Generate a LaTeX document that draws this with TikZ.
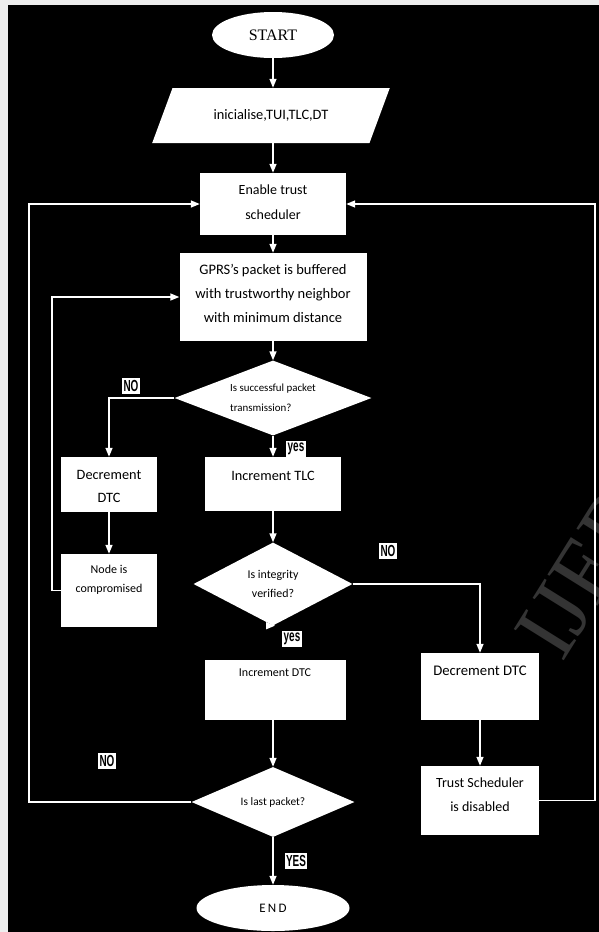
\documentclass[tikz,border=0pt]{standalone}
\usepackage{fontspec}
\setmainfont{Carlito}
\newfontfamily\startfont{Liberation Serif}
\newfontfamily\tagfont{Liberation Sans}[FakeStretch=0.62]
\usetikzlibrary{shapes.geometric,arrows.meta}
% box text: width, height, first baseline, lines
\newcommand{\boxtext}[4]{\parbox[c][#2][t]{#1}{\centering\rule{0pt}{#3}#4}}
\tikzset{
  flowbox/.style={fill=white, text=black, inner sep=0pt},
  decision/.style={diamond, fill=white, text=black, inner sep=0pt, align=center},
  terminal/.style={ellipse, fill=white, text=black, inner sep=0pt},
  flow/.style={draw=white, line width=1.4pt, -{Triangle[width=7pt,length=9pt]}},
  rail/.style={draw=white, line width=1.4pt},
  tag/.style={fill=white, text=black, inner xsep=1.5pt, inner ysep=2pt, font=\tagfont\bfseries\fontsize{16}{16}\selectfont},
}
\begin{document}
\begin{tikzpicture}[x=1pt,y=1pt,yscale=-1,xscale=1]
\useasboundingbox (0,0) rectangle (599,932);

%Shape: Page
\fill[fill={rgb,255:red,238;green,238;blue,238}] (0,0) rectangle (599,932);
\fill[black] (8,5) rectangle (599,932);
% watermark
\node (mark) [anchor=base west, rotate=58, inner sep=0pt, text={rgb,255:red,52;green,52;blue,52}, font=\startfont\fontsize{90}{90}\selectfont] at (562,664) {IJERT};

%Shape: Ellipse [start]
\node (start) [terminal, minimum width=122pt, minimum height=46pt, font=\startfont\fontsize{16}{16}\selectfont] at (273,35) {START};
%Shape: Parallelogram [init]
\node (init) [trapezium, trapezium left angle=45, trapezium right angle=135, trapezium stretches=true, minimum width=238pt, minimum height=55pt, fill=white, text=black, inner sep=0pt, font=\fontsize{14.4}{16}\selectfont] at (271,115.5) {inicialise,TUI,TLC,DT};
%Shape: Rectangle [enable]
\node (enable) [flowbox, font=\fontsize{14}{25}\selectfont] at (273,204) {\boxtext{146pt}{62pt}{21pt}{Enable trust\\scheduler}};
%Shape: Rectangle [gprs]
\node (gprs) [flowbox, font=\fontsize{14.5}{24}\selectfont] at (273,297) {\boxtext{187pt}{88pt}{21pt}{GPRS's packet is buffered\\with trustworthy neighbor\\with minimum distance}};
%Shape: Diamond [dia1]
\node (dia1) [decision, align=left, shape aspect=2.6, minimum width=197pt, minimum height=75pt, font=\fontsize{10.9}{20}\selectfont] at (273,398) {Is successful packet\\transmission?};
%Shape: Rectangle [decl]
\node (decl) [flowbox, font=\fontsize{14.3}{23}\selectfont] at (109,484.5) {\boxtext{96pt}{55pt}{22pt}{Decrement\\DTC}};
%Shape: Rectangle [inctlc]
\node (inctlc) [flowbox, font=\fontsize{14.3}{23}\selectfont] at (273,484) {\boxtext{136pt}{54pt}{23pt}{Increment TLC}};
%Shape: Rectangle [comp]
\node (comp) [flowbox, font=\fontsize{12}{19}\selectfont] at (109,590.5) {\boxtext{96pt}{73pt}{19pt}{Node is\\compromised}};
%Shape: Diamond [dia2]
\node (dia2) [decision, shape aspect=1.9, minimum width=159pt, minimum height=83pt, font=\fontsize{11.9}{19}\selectfont] at (273,584) {Is integrity\\verified?};
%Shape: Rectangle [incdtc]
\node (incdtc) [flowbox, font=\fontsize{12}{19}\selectfont] at (275,690) {\boxtext{141pt}{60pt}{16pt}{Increment DTC}};
%Shape: Rectangle [decr]
\node (decr) [flowbox, font=\fontsize{14.7}{23}\selectfont] at (480,686.5) {\boxtext{118pt}{67pt}{22pt}{Decrement DTC}};
%Shape: Rectangle [trust]
\node (trust) [flowbox, font=\fontsize{14}{24}\selectfont] at (480,800.5) {\boxtext{118pt}{69pt}{21pt}{Trust Scheduler\\is disabled}};
%Shape: Diamond [dia3]
\node (dia3) [decision, shape aspect=2.3, minimum width=163pt, minimum height=70pt, font=\fontsize{11.4}{14}\selectfont] at (273,802) {Is last packet?};
%Shape: Ellipse [end]
\node (end) [terminal, minimum width=153pt, minimum height=46pt, font=\fontsize{13}{13}\selectfont\addfontfeature{LetterSpace=18}] at (273,908) {END};

% rails for the loops
\coordinate (leftrail) at (29,0);
\coordinate (innerrail) at (52,0);
\coordinate (rightrail) at (595,0);

%Straight Lines [main column]
\draw [flow] (start) -- (start |- init.north);
\draw [flow] (init.south -| enable) -- (enable);
\draw [flow] (enable) -- (gprs);
\draw [flow] (gprs) -- (dia1);
\draw [flow] (dia1) -- (inctlc);
\draw [flow] (inctlc) -- (dia2);
\draw [flow] (dia2.south) -- (dia2.south -| incdtc);
\draw [flow] (incdtc.south -| dia3) -- (dia3);
\draw [flow] (dia3) -- (end);
%Straight Lines [branches]
\draw [flow] (dia1.west) -| (decl.north);
\draw [flow] (decl) -- (comp);
\draw [flow] (dia2.east) -| (decr.north);
\draw [flow] (decr) -- (trust);
%Straight Lines [loops]
\draw [flow] (comp.west) -- (comp.west -| innerrail) -- (gprs.west -| innerrail) -- (gprs.west);
\draw [flow] (dia3.west) -- (dia3.west -| leftrail) -- (enable.west -| leftrail) -- (enable.west);
\draw [flow] (trust.east) -- (trust.east -| rightrail) -- (enable.east -| rightrail) -- (enable.east);

% Text Node
\node (no1) [tag] at (131,386) {NO};
% Text Node
\node (yes1) [tag] at (296,449) {yes};
% Text Node
\node (no2) [tag] at (388,551) {NO};
% Text Node
\node (yes2) [tag] at (292,639) {yes};
% Text Node
\node (no3) [tag] at (107,761) {NO};
% Text Node
\node (yes3) [tag] at (296,861) {YES};

\end{tikzpicture}
\end{document}
